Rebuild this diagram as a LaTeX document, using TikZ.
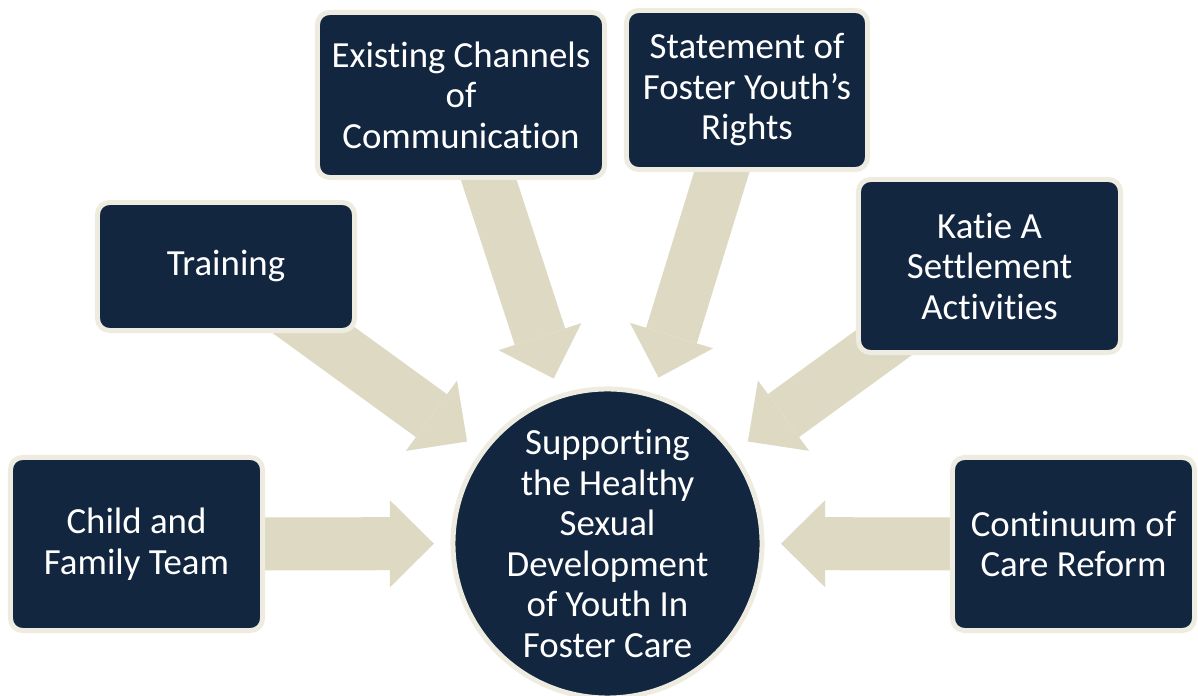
\documentclass[tikz,border=0pt]{standalone}
\usepackage{fontspec}
\setmainfont{Carlito}[Ligatures=NoCommon]
\usetikzlibrary{arrows.meta,backgrounds}
\definecolor{navy}{RGB}{19,38,64}
\definecolor{rim}{RGB}{238,236,225}
\definecolor{sand}{RGB}{221,217,195}
\begin{document}
\begin{tikzpicture}[x=0.025cm,y=0.025cm,
    every node/.style={font=\fontsize{26.2}{28.8}\selectfont},
    box/.style={draw=rim,fill=navy,line width=0.125cm,rounded corners=0.3cm,
        text=white,align=center,inner sep=0pt},
    feed/.style={draw=sand,line width=1.325cm,shorten >=4.3375cm,
        -{Triangle[length=1.1cm,width=2.175cm,line width=0pt]}}]
    \useasboundingbox (0,0) rectangle (1198,696);
    \node[box,circle,minimum size=7.725cm] (hub) at (607.5,152.5)
        {Supporting\\the Healthy\\Sexual\\Development\\of Youth In\\Foster Care};
    \node[box,minimum width=6.3cm,minimum height=4.325cm] (family) at (136.5,152)
        {Child and\\Family Team};
    \node[box,minimum width=6.425cm,minimum height=3.2cm] (training) at (226,429.5)
        {Training};
    \node[box,minimum width=7.175cm,minimum height=4.125cm] (channels) at (461,601)
        {Existing Channels\\of\\Communication};
    \node[box,minimum width=6.025cm,minimum height=3.975cm] (rights) at (747,606)
        {Statement of\\Foster Youth’s\\Rights};
    \node[box,minimum width=6.55cm,minimum height=4.325cm] (katie) at (989.5,430)
        {Katie A\\Settlement\\Activities};
    \node[box,minimum width=6.05cm,minimum height=4.325cm] (reform) at (1073.5,152)
        {Continuum of\\Care Reform};
    \begin{scope}[on background layer]
        \foreach \n in {family,training,channels,rights,katie,reform}
            \draw[feed] (\n.center) -- (hub.center);
    \end{scope}
\end{tikzpicture}
\end{document}
